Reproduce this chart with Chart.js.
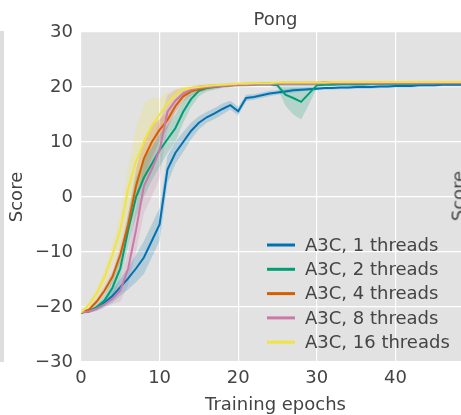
<!DOCTYPE html>
<html>
<head>
<meta charset="utf-8">
<script src="https://cdn.jsdelivr.net/npm/chart.js@4"></script>
<style>
  html, body { margin: 0; padding: 0; background: #fff; overflow: hidden; width: 461px; height: 415px; }
  #wrap { position: relative; width: 461px; height: 415px; overflow: hidden; }
  #c { position: absolute; left: 0; top: 0; }
  #leftStrip { position: absolute; left: 0; top: 31px; width: 4px; height: 331px; background: #dedede; }
  #rightLabel { position: absolute; left: 458px; top: 196px; transform: translate(-50%, -50%) rotate(-90deg);
    font: 18px "DejaVu Sans"; color: #444; white-space: nowrap; }
</style>
</head>
<body>
<div id="wrap">
  <div id="leftStrip"></div>
  <canvas id="c" width="476" height="415"></canvas>
  <div id="rightLabel">Score</div>
</div>
<script>
const epochs = [0, 1, 2, 3, 4, 5, 6, 7, 8, 9, 10, 11, 12, 13, 14, 15, 16, 17, 18, 19, 20,
    21, 22, 23, 24, 25, 26, 27, 28, 29, 30, 31, 32, 33, 34, 35, 36, 37, 38, 39, 40,
    41, 42, 43, 44, 45, 46, 47, 48, 49, 50];

const labels = ['A3C, 1 threads', 'A3C, 2 threads', 'A3C, 4 threads', 'A3C, 8 threads', 'A3C, 16 threads'];
const colors = ['#0072B2', '#009E73', '#D55E00', '#CC79A7', '#F0E442'];

// mean score per epoch
const threads1 = [-21, -20.8, -20.2, -19.2, -18, -16.4, -14.8, -13, -11, -8, -5, 5, 8, 10, 12, 13.5, 14.5, 15.2, 16, 16.7, 15.6,
    18, 18.2, 18.5, 18.8, 19, 19.2, 19.4, 19.5, 19.6, 19.7, 19.8, 19.8, 19.9, 19.9, 20, 20, 20, 20.1, 20.1, 20.2,
    20.2, 20.2, 20.3, 20.3, 20.3, 20.4, 20.4, 20.4, 20.4, 20.4];
const threads2 = [-21, -20.8, -20, -18.8, -16.5, -13, -6, 0, 3.5, 6, 8.5, 10.5, 12.5, 15.5, 17.8, 19.3, 19.8, 20, 20.2, 20.3, 20.4,
    20.4, 20.5, 20.5, 20.5, 20.3, 18.6, 18, 17.3, 18.8, 20.3, 20.4, 20.4, 20.5, 20.5, 20.5, 20.5, 20.6, 20.6, 20.6, 20.6,
    20.6, 20.6, 20.7, 20.7, 20.7, 20.7, 20.7, 20.7, 20.7, 20.7];
const threads4 = [-21, -20.5, -19, -17, -14.5, -10.5, -5, 2, 7, 10, 12.2, 14, 16.5, 18.3, 19.2, 19.6, 19.9, 20.1, 20.2, 20.3, 20.4,
    20.5, 20.5, 20.6, 20.6, 20.6, 20.7, 20.7, 20.7, 20.7, 20.7, 20.8, 20.8, 20.8, 20.8, 20.8, 20.8, 20.8, 20.8, 20.8, 20.8,
    20.8, 20.8, 20.8, 20.8, 20.8, 20.8, 20.8, 20.8, 20.8, 20.8];
const threads8 = [-21, -20.8, -20.3, -19.5, -18.5, -17, -13, -6, 2, 5, 8.5, 15.5, 17.5, 18.8, 19.5, 19.8, 20, 20.1, 20.2, 20.3, 20.4,
    20.4, 20.5, 20.5, 20.5, 20.6, 20.6, 20.6, 20.6, 20.6, 20.7, 20.7, 20.7, 20.7, 20.7, 20.7, 20.7, 20.7, 20.7, 20.7, 20.7,
    20.7, 20.7, 20.7, 20.7, 20.7, 20.7, 20.7, 20.7, 20.7, 20.7];
const threads16 = [-21, -19.6, -17.5, -14.5, -10.5, -6, 1.5, 6.5, 10, 13, 15, 17, 18.5, 19.5, 19.8, 20, 20.2, 20.3, 20.4, 20.5, 20.6,
    20.6, 20.7, 20.7, 20.7, 20.8, 20.8, 20.8, 20.8, 20.8, 20.8, 20.8, 20.9, 20.9, 20.9, 20.9, 20.9, 20.9, 20.9, 20.9, 20.9,
    20.9, 20.9, 20.9, 20.9, 20.9, 20.9, 20.9, 20.9, 20.9, 20.9];

// spread (std) per epoch for the shaded bands
const spread1 = [0.2, 0.3, 0.5, 0.8, 1.2, 1.5, 2, 2.5, 3, 3, 3, 2.5, 2, 1.8, 1.5, 1.2, 1, 1, 1, 0.8, 0.8,
    0.6, 0.5, 0.5, 0.5, 0.4, 0.4, 0.4, 0.3, 0.3, 0.3, 0.3, 0.3, 0.3, 0.3, 0.3, 0.3, 0.3, 0.3, 0.3, 0.3,
    0.3, 0.3, 0.3, 0.3, 0.3, 0.3, 0.3, 0.3, 0.3, 0.3];
const spread2 = [0.2, 0.3, 0.5, 1, 1.5, 2, 3, 3.5, 3.5, 3, 3, 2.5, 2.5, 2, 1.5, 1, 0.6, 0.5, 0.4, 0.3, 0.3,
    0.3, 0.3, 0.3, 0.3, 0.5, 2, 3, 3.2, 2, 0.5, 0.3, 0.3, 0.3, 0.3, 0.3, 0.3, 0.3, 0.3, 0.3, 0.3,
    0.3, 0.3, 0.3, 0.3, 0.3, 0.3, 0.3, 0.3, 0.3, 0.3];
const spread4 = [0.2, 0.3, 0.5, 0.8, 1, 1.5, 2, 3, 3.5, 3, 2, 1.5, 1.2, 1, 0.8, 0.6, 0.5, 0.4, 0.3, 0.3, 0.3,
    0.3, 0.3, 0.3, 0.3, 0.3, 0.3, 0.3, 0.3, 0.3, 0.3, 0.3, 0.3, 0.3, 0.3, 0.3, 0.3, 0.3, 0.3, 0.3, 0.3,
    0.3, 0.3, 0.3, 0.3, 0.3, 0.3, 0.3, 0.3, 0.3, 0.3];
const spread8 = [0.2, 0.3, 0.4, 0.6, 1, 2, 3, 4, 5, 5, 5, 3, 2, 1, 0.6, 0.5, 0.4, 0.3, 0.3, 0.3, 0.3,
    0.3, 0.3, 0.3, 0.3, 0.3, 0.3, 0.3, 0.3, 0.3, 0.3, 0.3, 0.3, 0.3, 0.3, 0.3, 0.3, 0.3, 0.3, 0.3, 0.3,
    0.3, 0.3, 0.3, 0.3, 0.3, 0.3, 0.3, 0.3, 0.3, 0.3];
const spread16 = [0.2, 0.5, 1, 1.5, 2, 3, 4, 6, 7, 5, 3, 2, 1.2, 0.8, 0.5, 0.4, 0.3, 0.3, 0.3, 0.3, 0.3,
    0.3, 0.3, 0.3, 0.3, 0.3, 0.3, 0.3, 0.3, 0.3, 0.3, 0.3, 0.3, 0.3, 0.3, 0.3, 0.3, 0.3, 0.3, 0.3, 0.3,
    0.3, 0.3, 0.3, 0.3, 0.3, 0.3, 0.3, 0.3, 0.3, 0.3];

const yTicks = [-30, -20, -10, 0, 10, 20, 30];
const xTicks = [0, 10, 20, 30, 40];

const means = [threads1, threads2, threads4, threads8, threads16];
const spreads = [spread1, spread2, spread4, spread8, spread16];

function hexToRgba(hex, a) {
    const n = parseInt(hex.slice(1), 16);
    return `rgba(${(n >> 16) & 255}, ${(n >> 8) & 255}, ${n & 255}, ${a})`;
}

const datasets = [];
means.forEach((mean, i) => {
    const sd = spreads[i];
    datasets.push({
        label: labels[i] + ' upper',
        data: epochs.map((e, k) => ({ x: e, y: mean[k] + sd[k] })),
        borderWidth: 0, pointRadius: 0, fill: false, order: 20
    });
    datasets.push({
        label: labels[i] + ' lower',
        data: epochs.map((e, k) => ({ x: e, y: mean[k] - sd[k] })),
        borderWidth: 0, pointRadius: 0, fill: '-1',
        backgroundColor: hexToRgba(colors[i], 0.2), order: 20
    });
    datasets.push({
        label: labels[i],
        data: epochs.map((e, k) => ({ x: e, y: mean[k] })),
        borderColor: colors[i], borderWidth: 2, pointRadius: 0, fill: false,
        order: 4 - i
    });
});

const textColor = '#444';
const FONT = '18px "DejaVu Sans"';

const decor = {
    id: 'decor',
    beforeDraw(chart) {
        const { ctx, chartArea: a } = chart;
        ctx.save();
        ctx.fillStyle = '#e2e2e2';
        ctx.fillRect(a.left, a.top, a.right - a.left, a.bottom - a.top);
        ctx.restore();
    },
    afterDraw(chart) {
        const { ctx, chartArea: a } = chart;
        const cx = (a.left + a.right) / 2 - 2;
        ctx.save();
        ctx.fillStyle = textColor;
        ctx.font = FONT;
        ctx.textAlign = 'center';
        ctx.textBaseline = 'middle';
        ctx.fillText('Pong', cx, a.top - 12);
        ctx.fillText('Training epochs', cx, a.bottom + 43);
        ctx.save();
        ctx.translate(17, (a.top + a.bottom) / 2);
        ctx.rotate(-Math.PI / 2);
        ctx.fillText('Score', 0, 0);
        ctx.restore();

        // legend, lower right inside the plot
        ctx.textAlign = 'left';
        labels.forEach((lab, i) => {
            const y = a.bottom - 117 + i * 24.3;
            ctx.strokeStyle = colors[i];
            ctx.lineWidth = 3;
            ctx.beginPath();
            ctx.moveTo(a.left + 186, y);
            ctx.lineTo(a.left + 214, y);
            ctx.stroke();
            ctx.fillStyle = textColor;
            ctx.fillText(lab, a.left + 224, y + 1);
        });
        ctx.restore();
    }
};

new Chart(document.getElementById('c'), {
    type: 'line',
    data: { datasets },
    options: {
        responsive: false,
        animation: false,
        devicePixelRatio: 1,
        layout: { autoPadding: false, padding: { top: 32, right: 2, left: 0, bottom: 0 } },
        plugins: { legend: { display: false }, tooltip: { enabled: false }, title: { display: false } },
        scales: {
            x: {
                type: 'linear', min: 0, max: 50,
                afterFit: s => { s.height = 53; },
                afterBuildTicks: s => { s.ticks = xTicks.map(v => ({ value: v })); },
                grid: { color: '#ffffff', lineWidth: 1.2, drawTicks: false },
                border: { display: false },
                ticks: { font: { family: 'DejaVu Sans', size: 18 }, color: textColor, padding: 6, maxRotation: 0 }
            },
            y: {
                min: -30, max: 30,
                afterFit: s => { s.width = 81; },
                afterBuildTicks: s => { s.ticks = yTicks.map(v => ({ value: v })); },
                grid: { color: '#ffffff', lineWidth: 1.2, drawTicks: false },
                border: { display: false },
                ticks: {
                    font: { family: 'DejaVu Sans', size: 18 }, color: textColor, padding: 8,
                    callback: v => String(v).replace('-', '\u2212')
                }
            }
        }
    },
    plugins: [decor]
});
</script>
</body>
</html>
